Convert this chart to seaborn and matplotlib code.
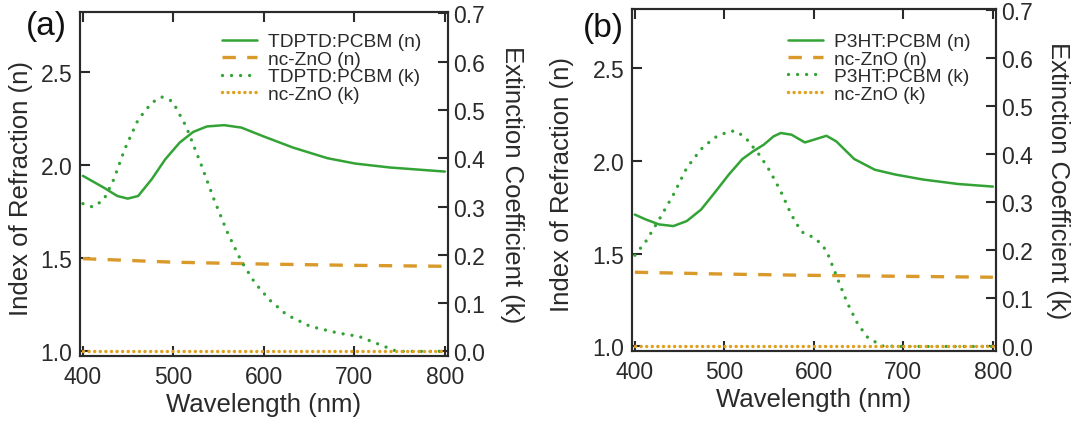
import numpy as np
import pandas as pd
import matplotlib
matplotlib.use("Agg")
import matplotlib.pyplot as plt
import seaborn as sns

# ---------------- data ----------------
wl_n_a = [400, 423, 438, 449.5, 461, 476, 491, 507, 522, 537, 556, 575, 600, 632, 670, 701, 739, 800]
n_tdptd = [1.941, 1.878, 1.833, 1.819, 1.833, 1.923, 2.03, 2.12, 2.177, 2.206, 2.213, 2.20, 2.152, 2.093,
           2.036, 2.007, 1.986, 1.964]

wl_k_a = [400, 411, 423, 434, 446, 461, 476, 487, 499, 514, 530, 545, 560, 575, 590, 606, 625, 651, 682,
          705, 724, 747, 770, 800]
k_tdptd = [0.306, 0.299, 0.314, 0.356, 0.418, 0.480, 0.515, 0.527, 0.518, 0.466, 0.39, 0.314, 0.245,
           0.187, 0.142, 0.107, 0.076, 0.052, 0.038, 0.031, 0.017, 0.0, 0.0, 0.0]

wl_n_b = [400, 412, 427, 443, 458, 474, 489, 505, 520, 532, 544, 555, 563, 575, 590, 602, 614, 625, 645,
          668, 691, 722, 761, 800]
n_p3ht = [1.711, 1.685, 1.658, 1.649, 1.676, 1.738, 1.828, 1.927, 2.01, 2.052, 2.088, 2.133, 2.151, 2.142,
          2.10, 2.118, 2.136, 2.106, 2.011, 1.953, 1.927, 1.90, 1.876, 1.862]

wl_k_b = [400, 412, 427, 443, 458, 474, 489, 505, 513, 524, 540, 551, 563, 575, 586, 602, 614, 625, 637,
          649, 660, 676, 700, 800]
k_p3ht = [0.19, 0.218, 0.264, 0.316, 0.372, 0.411, 0.435, 0.448, 0.449, 0.434, 0.397, 0.365, 0.323, 0.274,
          0.239, 0.225, 0.20, 0.148, 0.092, 0.047, 0.019, 0.001, 0.0, 0.0]

wl_zno = [400, 500, 600, 700, 800]
n_zno_a = [1.497, 1.478, 1.468, 1.461, 1.456]
n_zno_b = [1.40, 1.39, 1.383, 1.378, 1.373]
k_zno = [0.0, 0.0, 0.0, 0.0, 0.0]

x_ticks = [400, 500, 600, 700, 800]
n_ticks = [1.0, 1.5, 2.0, 2.5]
k_ticks = [0.0, 0.1, 0.2, 0.3, 0.4, 0.5, 0.6, 0.7]

# ---------------- style ----------------
sns.set_style("ticks")
plt.rcParams['font.family'] = ['Liberation Sans', 'DejaVu Sans']
plt.rcParams['axes.linewidth'] = 1.5
plt.rcParams['axes.edgecolor'] = '#2a2a2a'

GREEN = '#33a336'
ORANGE = '#d99a2b'
ORANGE_DOT = '#e0a020'
TXT = '#2a2a2a'

fig = plt.figure(figsize=(10.82, 4.27), dpi=100)

panels = [
    dict(rect=[0.0739, 0.164, 0.340, 0.8056], tag='(a)', name='TDPTD:PCBM',
         wn=wl_n_a, n=n_tdptd, wk=wl_k_a, k=k_tdptd, nz=n_zno_a,
         leg=(0.386, 0.939), ylx=-0.160, yrx=1.174, tagxy=(46, 27)),
    dict(rect=[0.584, 0.1756, 0.3364, 0.801], tag='(b)', name='P3HT:PCBM',
         wn=wl_n_b, n=n_p3ht, wk=wl_k_b, k=k_p3ht, nz=n_zno_b,
         leg=(0.4286, 0.930), ylx=-0.192, yrx=1.170, tagxy=(603, 29)),
]

for p in panels:
    ax1 = fig.add_axes(p['rect'])
    ax2 = ax1.twinx()
    dfn = pd.DataFrame({'wl': p['wn'], 'v': p['n']})
    dfz = pd.DataFrame({'wl': wl_zno, 'v': p['nz']})
    dfk = pd.DataFrame({'wl': p['wk'], 'v': p['k']})
    dfzk = pd.DataFrame({'wl': wl_zno, 'v': k_zno})

    sns.lineplot(data=dfn, x='wl', y='v', ax=ax1, color=GREEN, lw=1.8,
                 label=f"{p['name']} (n)", legend=False)
    sns.lineplot(data=dfz, x='wl', y='v', ax=ax1, color=ORANGE, lw=2.4,
                 label='nc-ZnO (n)', legend=False)
    ax1.lines[-1].set_dashes((4, 3.4))
    sns.lineplot(data=dfk, x='wl', y='v', ax=ax2, color=GREEN, lw=2.4,
                 label=f"{p['name']} (k)", legend=False)
    ax2.lines[-1].set_dashes((0.01, 2.7))
    ax2.lines[-1].set_dash_capstyle('round')
    sns.lineplot(data=dfzk, x='wl', y='v', ax=ax2, color=ORANGE_DOT, lw=2.5,
                 label='nc-ZnO (k)', legend=False)
    ax2.lines[-1].set_dashes((0.01, 1.6))
    ax2.lines[-1].set_dash_capstyle('round')

    ax1.set_xlim(396.7, 803.3)
    ax1.set_ylim(0.975, 2.82)
    ax2.set_ylim(-0.0095, 0.703)
    ax1.set_xticks(x_ticks)
    ax1.set_yticks(n_ticks)
    ax2.set_yticks(k_ticks)
    ax1.set_xticklabels([str(v) for v in x_ticks])
    ax1.set_yticklabels([f"{v:.1f}" for v in n_ticks])
    ax2.set_yticklabels([f"{v:.1f}" for v in k_ticks])

    ax1.tick_params(axis='x', direction='in', length=7, width=1.5, top=True, bottom=True,
                    labelsize=16.5, pad=6.5, colors=TXT)
    ax1.tick_params(axis='y', direction='in', length=7, width=1.5, left=True, right=False,
                    labelsize=16.5, pad=5.5, colors=TXT)
    ax2.tick_params(axis='y', direction='in', length=7, width=1.5, left=False, right=True,
                    labelsize=16.5, pad=3.5, colors=TXT)

    ax1.set_xlabel('Wavelength (nm)', fontsize=18.5, color=TXT, labelpad=3)
    ax1.set_ylabel('Index of Refraction (n)', fontsize=18.5, color=TXT, va='center', ha='center')
    ax1.yaxis.set_label_coords(p['ylx'], 0.49)
    ax2.set_ylabel('Extinction Coefficient (k)', fontsize=18.5, color=TXT, rotation=270,
                   va='center', ha='center')
    ax2.yaxis.set_label_coords(p['yrx'], 0.5)

    for s in list(ax1.spines.values()) + list(ax2.spines.values()):
        s.set_linewidth(1.5)

    handles = ax1.lines[:2] + ax2.lines[:2]
    labels = [h.get_label() for h in handles]
    ax2.legend(handles, labels, loc='upper left', bbox_to_anchor=p['leg'], frameon=False,
               fontsize=13.8, borderpad=0, labelspacing=0.0, handlelength=1.85,
               handletextpad=0.55, borderaxespad=0, labelcolor=TXT)

    tx, ty = p['tagxy']
    fig.text(tx / 1082, 1 - ty / 427, p['tag'], fontsize=24, color='#111111',
             ha='center', va='center')

fig.savefig('out.png', dpi=100)
